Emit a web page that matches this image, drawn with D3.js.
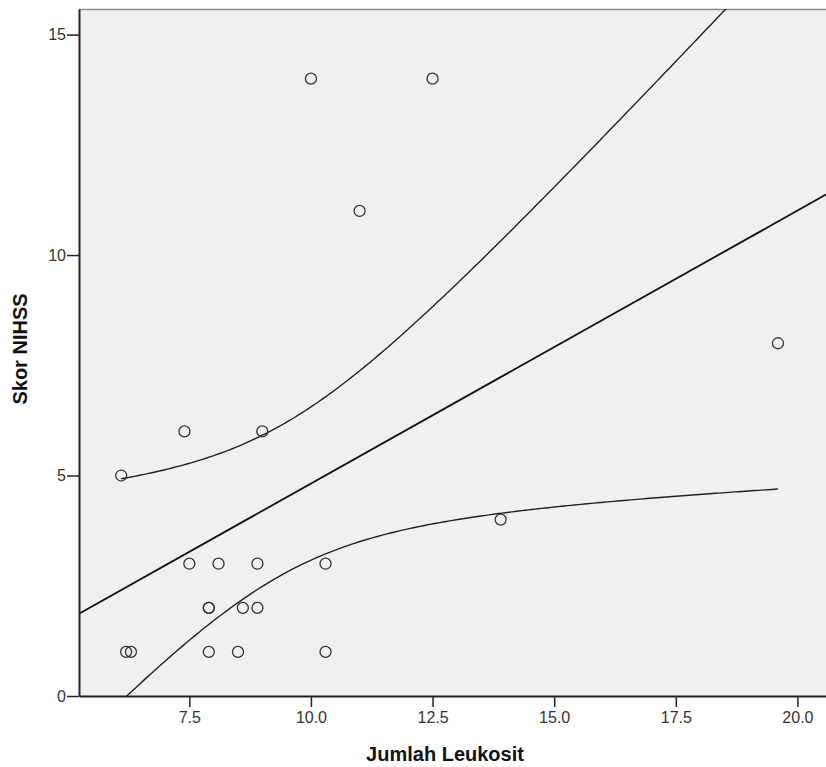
<!DOCTYPE html>
<html>
<head>
<meta charset="utf-8">
<style>
  body { margin: 0; background: #fff; }
  text { font-family: "Liberation Sans", Arial, sans-serif; }
</style>
</head>
<body>
<script src="https://cdn.jsdelivr.net/npm/d3@7/dist/d3.min.js"></script>
<script>
// *** DATA ***
var leukosit = [6.1, 7.4, 9.0, 10.0, 12.5, 11.0, 19.6, 13.9, 7.5, 8.1, 8.9, 10.3,
                7.9, 7.9, 8.6, 8.9, 6.2, 6.3, 7.9, 8.5, 10.3];
var nihss    = [5, 6, 6, 14, 14, 11, 8, 4, 3, 3, 3, 3,
                2, 2, 2, 2, 1, 1, 1, 1, 1];
var xTicks = [7.5, 10.0, 12.5, 15.0, 17.5, 20.0];
var yTicks = [0, 5, 10, 15];
var tCrit = 2.093; // t(0.975, df=19)

var W = 826, H = 767;
var pLeft = 79, pTop = 9, pRight = 830, pBottom = 696;

var svg = d3.select("body").append("svg").attr("width", W).attr("height", H);

var x = d3.scaleLinear().domain([5.232, 20.67]).range([pLeft, pRight]);
var y = d3.scaleLinear().domain([0, 15.58]).range([pBottom, pTop]);

// plot background
svg.append("rect").attr("x", pLeft).attr("y", pTop)
  .attr("width", pRight - pLeft).attr("height", pBottom - pTop)
  .attr("fill", "#f0f0f0");
svg.append("line").attr("x1", pLeft).attr("x2", pRight).attr("y1", pTop + 0.5).attr("y2", pTop + 0.5)
  .attr("stroke", "#8a8a8a").attr("stroke-width", 1.5);

svg.append("clipPath").attr("id", "clip").append("rect")
  .attr("x", pLeft).attr("y", pTop).attr("width", pRight - pLeft).attr("height", pBottom - pTop);

// *** REGRESSION ***
var pts = leukosit.map(function(v, i){ return {x: v, y: nihss[i]}; });
var n = pts.length;
var mx = d3.mean(leukosit), my = d3.mean(nihss);
var sxx = d3.sum(leukosit, function(v){ return (v - mx) * (v - mx); });
var sxy = d3.sum(pts, function(p){ return (p.x - mx) * (p.y - my); });
var b = sxy / sxx, a = my - b * mx;
var sse = d3.sum(pts, function(p){ var r = p.y - (a + b * p.x); return r * r; });
var s = Math.sqrt(sse / (n - 2));

function band(sign){
  var x0 = d3.min(leukosit), x1 = d3.max(leukosit);
  return d3.range(0, 201).map(function(i){
    var xv = x0 + (x1 - x0) * i / 200;
    var se = s * Math.sqrt(1 / n + (xv - mx) * (xv - mx) / sxx);
    return [xv, a + b * xv + sign * tCrit * se];
  });
}

var line = d3.line().x(function(d){ return x(d[0]); }).y(function(d){ return y(d[1]); });
var g = svg.append("g").attr("clip-path", "url(#clip)");

g.append("path").datum(x.domain().map(function(v){ return [v, a + b * v]; }))
  .attr("d", line).attr("fill", "none").attr("stroke", "#111").attr("stroke-width", 1.8);
[1, -1].forEach(function(sg){
  g.append("path").datum(band(sg))
    .attr("d", line).attr("fill", "none").attr("stroke", "#222").attr("stroke-width", 1.4);
});

// points
g.selectAll("circle").data(pts).enter().append("circle")
  .attr("cx", function(d){ return x(d.x); })
  .attr("cy", function(d){ return y(d.y); })
  .attr("r", 5.5)
  .attr("fill", "none").attr("stroke", "#333").attr("stroke-width", 1.3);

// *** AXES ***
var xAxis = svg.append("g").attr("transform", "translate(0," + pBottom + ")")
  .call(d3.axisBottom(x).tickValues(xTicks).tickFormat(d3.format(".1f")).tickSize(11).tickSizeOuter(0).tickPadding(5));
var yAxis = svg.append("g").attr("transform", "translate(" + pLeft + ",0)")
  .call(d3.axisLeft(y).tickValues(yTicks).tickSize(12).tickSizeOuter(0).tickPadding(1));

[xAxis, yAxis].forEach(function(ax){
  ax.attr("font-size", 16).attr("font-family", "'Liberation Sans', Arial, sans-serif");
  ax.select(".domain").attr("stroke", "#222").attr("stroke-width", 2);
  ax.selectAll(".tick line").attr("stroke", "#222").attr("stroke-width", 1.5);
  ax.selectAll(".tick text").attr("fill", "#333");
});

svg.append("text").attr("x", 445).attr("y", 761).attr("text-anchor", "middle")
  .style("font-size", "20px").style("font-weight", "bold").attr("fill", "#111")
  .text("Jumlah Leukosit");
svg.append("text").attr("transform", "translate(27,349) rotate(-90)").attr("text-anchor", "middle")
  .style("font-size", "20px").style("font-weight", "bold").attr("fill", "#111")
  .text("Skor NIHSS");
</script>
</body>
</html>
